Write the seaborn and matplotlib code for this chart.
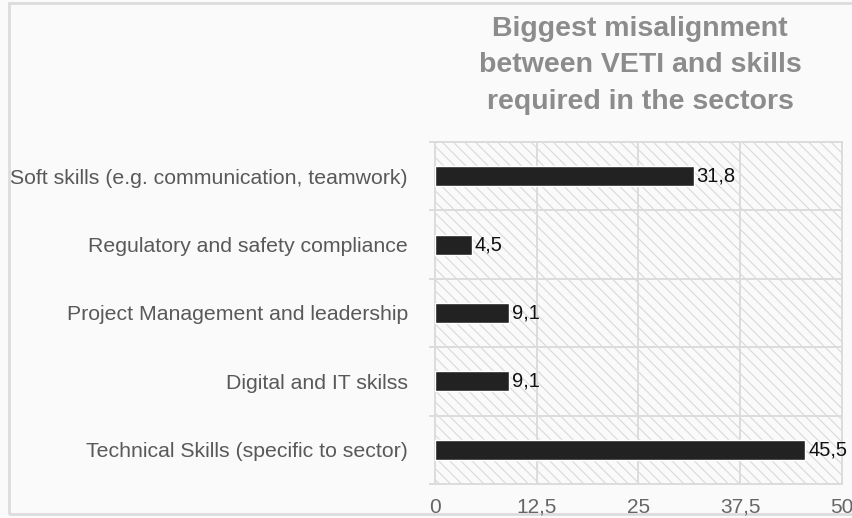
import matplotlib
matplotlib.use("Agg")
import matplotlib.pyplot as plt
from matplotlib.patches import Rectangle
import seaborn as sns
import pandas as pd

categories = [
    "Soft skills (e.g. communication, teamwork)",
    "Regulatory and safety compliance",
    "Project Management and leadership",
    "Digital and IT skilss",
    "Technical Skills (specific to sector)",
]
values = [31.8, 4.5, 9.1, 9.1, 45.5]
x_ticks = [0, 12.5, 25, 37.5, 50]
title = "Biggest misalignment\nbetween VETI and skills\nrequired in the sectors"

df = pd.DataFrame({"skill": categories, "share": values})

sns.set_theme(style="white")
plt.rcParams["font.family"] = ["Liberation Sans", "DejaVu Sans"]
plt.rcParams["hatch.linewidth"] = 0.8
plt.rcParams["hatch.color"] = "#d9d9d9"

fig = plt.figure(figsize=(8.53, 5.18), dpi=100)
fig.patch.set_facecolor("#fafafa")
# outer frame
fig.patches.append(Rectangle((9 / 853, 4 / 518), 1.2, 511 / 518, transform=fig.transFigure,
                             facecolor="none", edgecolor="#dcdcdc", linewidth=2.0, zorder=-1))

ax = fig.add_axes([435 / 853, 1 - 484 / 518, (842 - 435) / 853, (484 - 142) / 518])
ax.set_facecolor("#fafafa")
# hatched plot background
ax.add_patch(Rectangle((0, 0), 1, 1, transform=ax.transAxes, facecolor="#fafafa",
                       edgecolor="#d9d9d9", hatch="\\\\\\", linewidth=0, zorder=0))

sns.barplot(data=df, x="share", y="skill", orient="h", color="#222222",
            width=0.29, saturation=1, ax=ax, zorder=3)

ax.bar_label(ax.containers[0], labels=[f"{v:.1f}".replace(".", ",") for v in values],
             padding=2, fontsize=14.5, color="#111111")

ax.set_xlim(0, 50)
ax.set_ylim(len(categories) - 0.5, -0.5)
ax.set_xticks(x_ticks)
ax.set_xticklabels([f"{t:g}".replace(".", ",") for t in x_ticks])
ax.set_yticks(range(len(categories)))
ax.set_yticks([i - 0.5 for i in range(len(categories) + 1)], minor=True)
ax.set_xlabel("")
ax.set_ylabel("")

ax.grid(axis="x", which="major", color="#dcdcdc", linewidth=1.4, zorder=1)
ax.grid(axis="y", which="minor", color="#dcdcdc", linewidth=1.4, zorder=1)
ax.set_axisbelow(True)

ax.tick_params(axis="y", which="major", length=0, pad=19.5, labelsize=15.3, labelcolor="#595959")
ax.tick_params(axis="y", which="minor", length=4, color="#dcdcdc", width=1.4, left=True)
ax.tick_params(axis="x", which="major", length=0, pad=10, labelsize=15, labelcolor="#666666")

for s in ax.spines.values():
    s.set_color("#dcdcdc")
    s.set_linewidth(1.4)

fig.text(640 / 853, 1 - 16 / 518, title, ha="center", va="top", fontsize=20.5,
         fontweight="bold", color="#8c8c8c", linespacing=1.52)

fig.savefig("out.png", dpi=100, facecolor=fig.get_facecolor())
